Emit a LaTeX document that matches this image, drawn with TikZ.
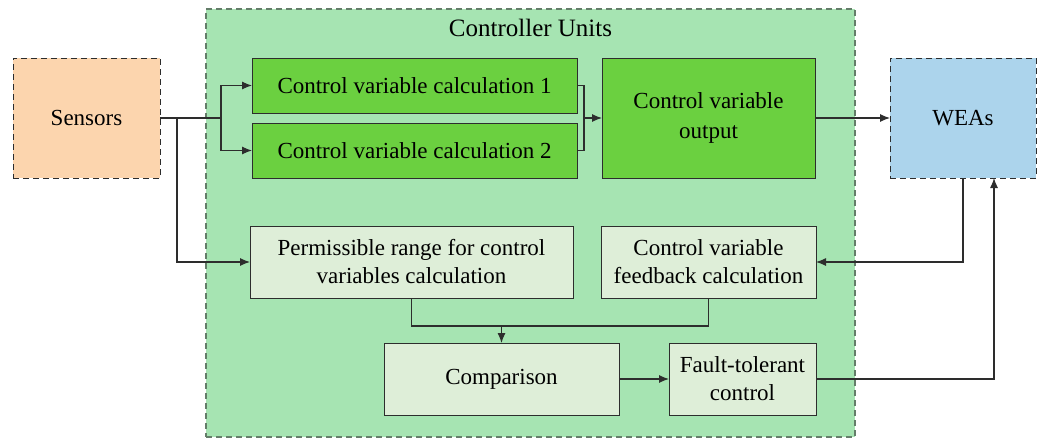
\documentclass[tikz,border=0pt]{standalone}
\usepackage{fontspec}
\setmainfont{Liberation Serif}
\usetikzlibrary{arrows.meta, calc, positioning}
\definecolor{unitsgreen}{RGB}{166,228,178}
\definecolor{unitsedge}{RGB}{100,125,105}
\definecolor{calcgreen}{RGB}{107,208,64}
\definecolor{lightgreen}{RGB}{222,238,216}
\definecolor{sensorfill}{RGB}{252,213,174}
\definecolor{weafill}{RGB}{172,212,236}
\definecolor{boxedge}{RGB}{45,45,45}
\tikzstyle{units} = [rectangle, draw=unitsedge, dash pattern=on 3pt off 2pt, fill=unitsgreen, line width=0.6pt, inner sep=0pt, outer sep=0pt]
\tikzstyle{outer} = [rectangle, draw=boxedge, dash pattern=on 3pt off 2pt, line width=0.5pt, minimum height=60pt, text centered, inner sep=0pt, outer sep=0pt]
\tikzstyle{calcbox} = [rectangle, draw=boxedge, fill=calcgreen, line width=0.5pt, minimum height=27.5pt, text centered, align=center, inner sep=0pt, outer sep=0pt]
\tikzstyle{lightbox} = [rectangle, draw=boxedge, fill=lightgreen, line width=0.5pt, minimum height=36pt, text centered, align=center, inner sep=0pt, outer sep=0pt]
\tikzstyle{link} = [line width=0.55pt, draw=boxedge]
\tikzstyle{arrow} = [line width=0.55pt, draw=boxedge, ->, >={Latex[length=5pt,width=4pt]}]

\begin{document}
\begin{tikzpicture}[font=\fontsize{11.5}{14}\selectfont]
		\useasboundingbox (0,0) rectangle (521pt,-219.5pt);
		\node (Units) [units, minimum width=324.5pt, minimum height=214pt, anchor=north west] at (103pt,-4.5pt) {};
		\node (UnitsLabel) [below=1.5pt of Units.north, font=\fontsize{12.5}{14}\selectfont] {Controller Units};
		\node (Sensors) [outer, fill=sensorfill, minimum width=73.5pt] at (43.25pt,-59pt) {Sensors};
		\node (Calc1) [calcbox, minimum width=162.5pt, right=46pt of Sensors.north east, anchor=north west] {Control variable calculation 1};
		\node (Calc2) [calcbox, minimum width=162.5pt, below=5pt of Calc1] {Control variable calculation 2};
		\node (Output) [calcbox, minimum width=106.5pt, minimum height=60pt, right=12.5pt of Calc1.north east, anchor=north west] {Control variable\\[1pt]output};
		\node (WEAs) [outer, fill=weafill, minimum width=73pt, right=37.5pt of Output] {WEAs};
		\node (Permissible) [lightbox, minimum width=161.5pt, below=24pt of Calc2.south west, anchor=north west, xshift=-1pt] {Permissible range for control\\variables calculation};
		\node (Feedback) [lightbox, minimum width=107.5pt, right=14pt of Permissible.north east, anchor=north west] {Control variable\\feedback calculation};
		\node (Comparison) [lightbox, minimum width=117.5pt, below=22.5pt of Permissible.south, anchor=north, xshift=45pt] {Comparison};
		\node (Fault) [lightbox, minimum width=73.5pt, right=25pt of Comparison] {Fault-tolerant\\control};
		\coordinate (Split) at ([xshift=30.5pt]Sensors.east);
		\coordinate (Merge) at ($(Calc1.east)!0.5!(Calc2.east)+(3.5pt,0)$);
		\coordinate (Join) at ([yshift=-14pt]Permissible.south);
		\coordinate (WEAsIn) at ([xshift=15.5pt]WEAs.south);
		\draw [link] (Sensors.east) -- (Split);
		\draw [arrow] (Split) |- (Calc1);
		\draw [arrow] (Split) |- (Calc2);
		\draw [arrow] ([xshift=8.5pt]Sensors.east) |- (Permissible);
		\draw [link] (Calc1.east) -| (Merge) |- (Calc2.east);
		\draw [arrow] (Merge) -- (Merge -| Output.west);
		\draw [arrow] (Output) -- (WEAs);
		\draw [arrow] (WEAs.south) |- (Feedback);
		\draw [link] (Permissible.south) -- (Join) -| (Feedback.south);
		\draw [arrow] (Join -| Comparison.north) -- (Comparison);
		\draw [arrow] (Comparison) -- (Fault);
		\draw [arrow] (Fault) -| (WEAsIn);
	\end{tikzpicture}
\end{document}
